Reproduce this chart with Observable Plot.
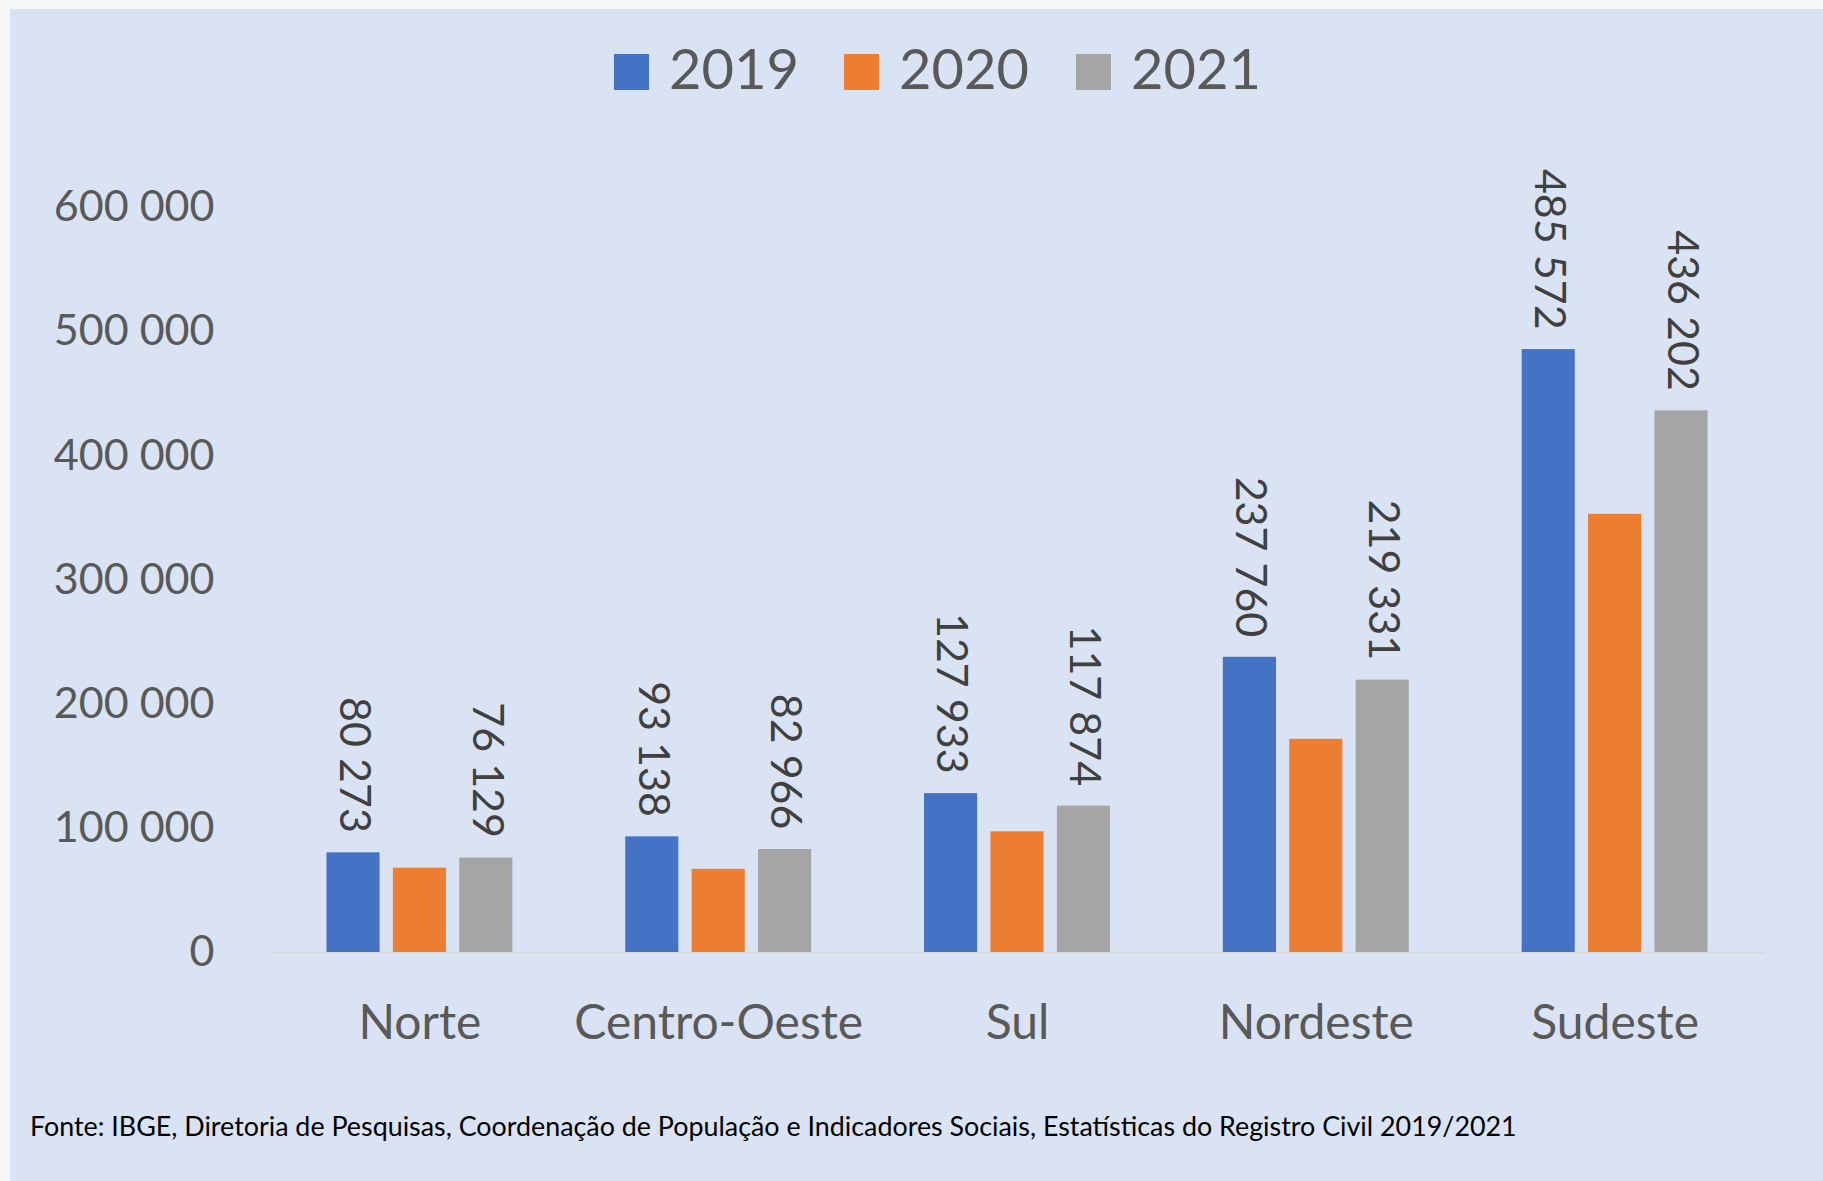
<!DOCTYPE html>
<html><head><meta charset="utf-8">
<script src="https://cdn.jsdelivr.net/npm/d3@7"></script>
<script src="https://cdn.jsdelivr.net/npm/@observablehq/plot@0.6"></script>
<style>
html,body{margin:0;padding:0;background:#f7f7f7;}
#panel{position:absolute;left:10px;top:9px;width:1813px;height:1172px;background:#dae3f3;font-family:Lato,"Noto Sans",sans-serif;overflow:hidden}
#legend{position:absolute;top:0;left:0;width:100%;height:111px}
.item{position:absolute;top:45px;height:36px;display:flex;align-items:center}
.sw{width:35px;height:36px;flex:none}
.lab{font-size:56px;color:#595959;margin-left:20px;line-height:36px;white-space:nowrap;position:relative;top:-4px}
#chart{position:absolute;left:0;top:111px}
#caption{position:absolute;left:20px;top:1103px;font-size:26.85px;line-height:27px;color:#000;white-space:nowrap}
</style>
</head><body>
<div id="panel">
  <div id="legend"></div>
  <div id="chart"></div>
  <div id="caption"></div>
</div>
<script>
const regions = ["Norte", "Centro-Oeste", "Sul", "Nordeste", "Sudeste"];
const years = ["2019", "2020", "2021"];
const colors = ["#4472c4", "#ed7d31", "#a5a5a5"];
const v2019 = [80273, 93138, 127933, 237760, 485572];
const v2020 = [67900, 67000, 97200, 171700, 352900];
const v2021 = [76129, 82966, 117874, 219331, 436202];
const labeledYears = ["2019", "2021"];
const yTicks = [0, 100000, 200000, 300000, 400000, 500000, 600000];
const captionText = "Fonte: IBGE, Diretoria de Pesquisas, Coordenação de População e Indicadores Sociais, Estatísticas do Registro Civil 2019/2021";

const series = {"2019": v2019, "2020": v2020, "2021": v2021};
const data = [];
regions.forEach((r, i) => years.forEach(y => data.push({region: r, year: y, value: series[y][i]})));
const labelData = data.filter(d => labeledYears.includes(d.year));

const fmt = d3.formatLocale({decimal: ",", thousands: " ", grouping: [3], currency: ["", ""]}).format(",d");

// legend
const legend = document.getElementById("legend");
const legendLefts = [604, 834, 1066];
years.forEach((y, i) => {
  const it = document.createElement("div");
  it.className = "item";
  it.style.left = legendLefts[i] + "px";
  const sw = document.createElement("div");
  sw.className = "sw";
  sw.style.background = colors[i];
  const lab = document.createElement("span");
  lab.className = "lab";
  lab.textContent = y;
  it.appendChild(sw); it.appendChild(lab);
  legend.appendChild(it);
});

document.getElementById("caption").textContent = captionText;

const chart = Plot.plot({
  width: 1813,
  height: 960,
  marginLeft: 260,
  marginRight: 59,
  marginTop: 87,
  marginBottom: 128,
  style: {background: "transparent", fontFamily: "Lato, 'Noto Sans', sans-serif", fontSize: "43px", color: "#595959"},
  fx: {domain: regions, padding: 0, round: false, label: null},
  x: {domain: years, paddingInner: 0.2, paddingOuter: 0.85, round: false, axis: null},
  y: {domain: [0, 600000], label: null},
  color: {domain: years, range: colors},
  marks: [
    Plot.axisY({ticks: yTicks, tickSize: 0, tickPadding: 56, tickFormat: fmt, fontSize: 43, fill: "#595959", label: null}),
    Plot.axisFx({anchor: "bottom", tickSize: 0, tickPadding: 52, fontSize: 48, fill: "#595959", label: null}),
    Plot.ruleY([0], {stroke: "#d9d9d9", strokeWidth: 2}),
    Plot.barY(data, {fx: "region", x: "year", y: "value", fill: "year"}),
    Plot.text(labelData, {fx: "region", x: "year", y: "value", text: d => fmt(d.value), rotate: 90, textAnchor: "end", dy: -20, fontSize: 43, fill: "#404040"})
  ]
});
document.getElementById("chart").appendChild(chart);
</script>
</body></html>
